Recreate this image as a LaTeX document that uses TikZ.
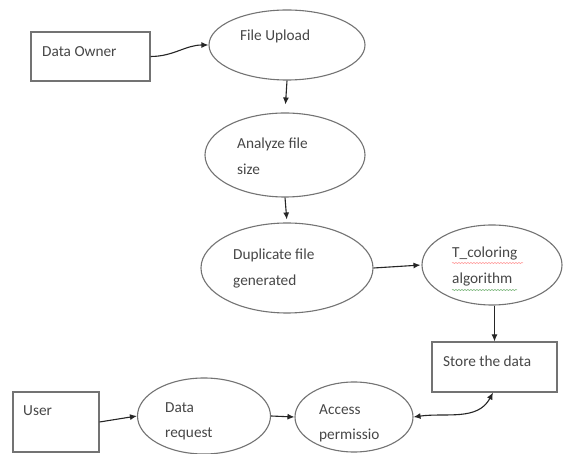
\documentclass[tikz,border=0pt]{standalone}
\usepackage{fontspec}
\setmainfont{Carlito}
\usetikzlibrary{arrows.meta,shapes.geometric,decorations.pathmorphing}
\begin{document}
\begin{tikzpicture}[x=1pt,y=-1pt,
  shapeline/.style={draw=black!55,line width=1.1pt},
  oval/.style={shapeline,ellipse,inner sep=0pt},
  boxnode/.style={shapeline,rectangle,inner sep=0pt},
  label/.style={anchor=north west,inner sep=0pt,align=left,text=black!72,
    font=\fontsize{15.3}{25.5}\selectfont},
  conn/.style={draw=black!85,line width=1.1pt,-{Latex[length=7pt,width=6pt]}},
  spell/.style={line width=0.5pt,decorate,decoration={snake,amplitude=0.5pt,segment length=3pt}}
]
\useasboundingbox (0,0) rectangle (563,454);
\fill[white] (0,0) rectangle (563,454);

% boxes
\node[boxnode,minimum width=119pt,minimum height=49pt] (owner) at (90.5,56.5) {};
\node[boxnode,minimum width=125pt,minimum height=50pt] (store) at (494.5,367) {};
\node[boxnode,minimum width=86pt,minimum height=60pt] (user) at (56,422) {};

% ellipses
\node[oval,minimum width=156pt,minimum height=70pt] (fileup) at (287,45) {};
\node[oval,minimum width=160pt,minimum height=84pt] (analyze) at (285,155) {};
\node[oval,minimum width=172pt,minimum height=90pt] (dup) at (287,268) {};
\node[oval,minimum width=140pt,minimum height=80pt] (tcol) at (492,265) {};
\node[oval,minimum width=133pt,minimum height=76pt] (dreq) at (204,416) {};
\node[oval,minimum width=118pt,minimum height=70pt] (access) at (354,417) {};

% texts
\node[label] (townr) at (42,46) {Data Owner};
\node[label] (tfile) at (240,30) {File Upload};
\node[label] (tana) at (237,138) {Analyze file\\size};
\node[label] (tdup) at (233,249) {Duplicate file\\generated};
\node[label] (ttcol) at (452,247) {T\_coloring\\algorithm};
\node[label] (tstore) at (443,356) {Store the data};
\node[label] (tuser) at (23,405) {User};
\node[label] (treq) at (165,402) {Data\\request};
\node[label] (tacc) at (319,404) {Access\\permissio};

% spell-check underlines
\draw[spell,red!45] (452,263) -- (523,263);
\draw[spell,green!45!black!60] (452,290) -- (517,290);

% connectors
\draw[conn] (owner.east) to[out=0,in=180] (fileup.west);
\draw[conn,shorten >=8pt] (fileup.south) -- (analyze.north);
\draw[conn,shorten >=3pt] (analyze.south) -- (dup.north);
\draw[conn,shorten >=1pt] (dup.east) -- (tcol.west);
\draw[conn] (tcol.south -| store.north) -- (store.north);
\draw[conn] (user.east) -- (dreq.west);
\draw[conn] (dreq.east) -- (access.west);
\draw[conn,{Latex[length=7pt,width=6pt]}-{Latex[length=7pt,width=6pt]}] (access.east) to[out=8,in=-118] ([xshift=-1.5pt]store.south);
\end{tikzpicture}
\end{document}
